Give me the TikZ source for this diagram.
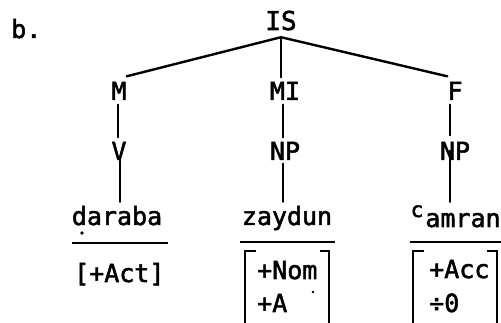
\documentclass[tikz,border=0pt]{standalone}
\usepackage{fontspec}
\newfontfamily\tw[FakeBold=2]{DejaVu Sans Mono}
\begin{document}
\begin{tikzpicture}[x=1pt,y=-1pt,
  lbl/.style={font=\tw\fontsize{25}{30}\selectfont, inner xsep=0pt, inner ysep=4.5pt,
    text height=18pt, text depth=0pt, anchor=base},
  word/.style={lbl, text height=20pt, inner ysep=3pt},
  feat/.style={font=\tw\fontsize{25}{30}\selectfont, inner sep=0pt, anchor=base west},
  edge/.style={line width=2.4pt, line cap=round},
  rule/.style={line width=2pt},
  brk/.style={line width=2.4pt}]
\useasboundingbox (0,0) rectangle (501,323);
% label
\node[feat] (b) at (11,38) {b.};
% tree nodes
\node[lbl, font=\tw\fontsize{26}{30}\selectfont, inner ysep=7pt] (IS) at (281,30) {IS};
\node[lbl] (M) at (119,100) {M};
\node[lbl] (MI) at (285,100) {MI};
\node[lbl] (F) at (455,100) {F};
\node[lbl] (V) at (119,160) {V};
\node[lbl] (NPm) at (285,160) {NP};
\node[lbl] (NPr) at (455,160) {NP};
\node[word] (daraba) at (117,225) {daraba};
\node[word] (zaydun) at (287,225) {zaydun};
\node[word] (amran) at (463,227) {amran};
\node[font=\tw\fontsize{21}{24}\selectfont, inner sep=0pt, anchor=base] (c) at (417,217) {c};
% connectors
\draw[edge] (IS.south) -- ([yshift=1pt]M.north east);
\draw[edge] (IS.south) -- (IS.south |- MI.north);
\draw[edge] (IS.south) -- ([yshift=1pt]F.north west);
\draw[edge] ([xshift=-1pt]M.south) -- ([xshift=-1pt]V.north);
\draw[edge] ([xshift=1pt,yshift=4pt]V.south) -- ([xshift=1pt]V.south |- daraba.north);
\draw[edge] ([xshift=-2pt]MI.south) -- ([xshift=-2pt]MI.south |- NPm.north);
\draw[edge] ([xshift=-2pt,yshift=1pt]NPm.south) -- ([xshift=-2pt]NPm.south |- zaydun.north);
\draw[edge] ([xshift=-5pt]F.south) -- ([xshift=-5pt,yshift=2pt]F.south |- NPr.north);
\draw[edge] ([xshift=-5pt,yshift=14pt]NPr.south) -- ([xshift=-5pt,yshift=2pt]NPr.south |- amran.north);
% under-dot of d
\fill (82,233) circle (1.8pt);
% rules
\draw[rule] (72,243) -- (168,243);
\draw[rule] (240,242) -- (335,242);
\draw[rule] (410,242) -- (501,242);
% features
\node[feat] (act) at (74,282) {[+Act]};
\node[feat] (nom) at (257,279) {+Nom};
\node[feat] (a) at (257,312) {+A};
\fill (313,292) circle (1.3pt);
\node[feat] (acc) at (429,278) {+Acc};
\node[feat] (zero) at (429,312) {÷0};
% big brackets
\draw[brk] (256,251) -- (245,251) -- (245,323);
\draw[brk] (320,251) -- (329,251) -- (329,323);
\draw[brk] (424,251) -- (413,251) -- (413,323);
\draw[brk] (487,251) -- (497,251) -- (497,323);
\end{tikzpicture}
\end{document}
